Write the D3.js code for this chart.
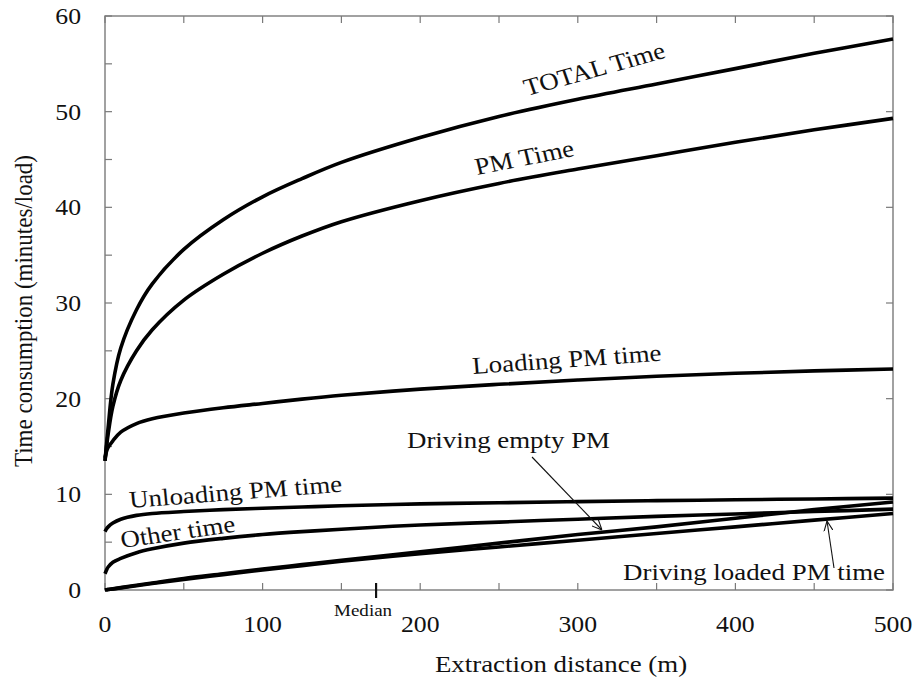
<!DOCTYPE html>
<html>
<head>
<meta charset="utf-8">
<script src="https://cdn.jsdelivr.net/npm/d3@7"></script>
<style>
  body { margin: 0; background: #fff; }
  svg { display: block; }
  text { font-family: "Liberation Serif", "Times New Roman", serif; fill: #111; }
  .frame { fill: none; stroke: #7a7a7a; stroke-width: 1.4; }
  .tick { stroke: #7a7a7a; stroke-width: 1.2; }
  .curve { fill: none; stroke: #000; stroke-width: 3.6; stroke-linejoin: round; }
  .pointer { stroke: #111; stroke-width: 1.1; fill: none; }
</style>
</head>
<body>
<svg width="917" height="683"></svg>
<script>
(function (d3) {
  'use strict';

  // extraction distance (m)
  const distance = [0, 1, 2, 5, 10, 20, 30, 50, 75, 100, 125, 150, 200, 250, 300, 350, 400, 450, 500];

  // time consumption (minutes/load)
  const totalTime     = [13.5, 15.3, 17.0, 21.5, 25.3, 29.3, 32.0, 35.6, 38.7, 41.1, 43.0, 44.7, 47.3, 49.5, 51.3, 52.9, 54.5, 56.1, 57.6];
  const pmTime        = [13.5, 15.0, 16.3, 19.2, 21.9, 25.0, 27.2, 30.3, 33.0, 35.2, 37.0, 38.5, 40.7, 42.5, 44.0, 45.4, 46.8, 48.1, 49.3];
  const loadingTime   = [13.8, 14.5, 14.9, 15.6, 16.5, 17.4, 17.9, 18.5, 19.05, 19.5, 19.95, 20.35, 21.0, 21.5, 21.95, 22.35, 22.65, 22.9, 23.1];
  const unloadingTime = [6.1, 6.4, 6.6, 7.0, 7.4, 7.8, 8.0, 8.2, 8.4, 8.55, 8.68, 8.8, 9.0, 9.12, 9.24, 9.34, 9.43, 9.52, 9.6];
  const otherTime     = [1.7, 2.1, 2.4, 2.9, 3.3, 3.9, 4.3, 4.9, 5.4, 5.8, 6.1, 6.35, 6.8, 7.1, 7.4, 7.7, 7.95, 8.2, 8.45];
  const drivingEmpty  = [0, 0.03, 0.05, 0.12, 0.25, 0.5, 0.73, 1.2, 1.7, 2.2, 2.65, 3.1, 4.0, 4.9, 5.8, 6.6, 7.5, 8.4, 9.2];
  const drivingLoaded = [0, 0.03, 0.05, 0.11, 0.22, 0.45, 0.67, 1.1, 1.6, 2.1, 2.55, 3.0, 3.8, 4.5, 5.2, 5.9, 6.6, 7.3, 8.0];

  const xTicks = [0, 100, 200, 300, 400, 500];
  const xMinor = [50, 150, 250, 350, 450];
  const yTicks = [0, 10, 20, 30, 40, 50, 60];
  const yMinor = [5, 15, 25, 35, 45, 55];
  const medianDistance = 172;

  const series = [totalTime, pmTime, loadingTime, unloadingTime, otherTime, drivingEmpty, drivingLoaded];

  const svg = d3.select('svg');
  const left = 105, right = 893, top = 16, bottom = 590;
  const stretch = 1.12; // the figure's text is a bit wider than tall

  const x = d3.scaleLinear().domain([0, 500]).range([left, right]);
  const y = d3.scaleLinear().domain([0, 60]).range([bottom, top]);

  const line = d3.line()
    .x((d, i) => x(distance[i]))
    .y(d => y(d))
    .curve(d3.curveCatmullRom.alpha(0.5));

  // ticks, pointing inward on all four sides
  const tickLen = 7;
  const g = svg.append('g');
  g.selectAll('.xb').data(xTicks.concat(xMinor)).enter().append('line')
    .attr('class', 'tick')
    .attr('x1', d => x(d)).attr('x2', d => x(d))
    .attr('y1', bottom).attr('y2', bottom - tickLen);
  g.selectAll('.xt').data(xTicks.concat(xMinor)).enter().append('line')
    .attr('class', 'tick')
    .attr('x1', d => x(d)).attr('x2', d => x(d))
    .attr('y1', top).attr('y2', top + tickLen);
  g.selectAll('.yl').data(yTicks.concat(yMinor)).enter().append('line')
    .attr('class', 'tick')
    .attr('x1', left).attr('x2', left + tickLen)
    .attr('y1', d => y(d)).attr('y2', d => y(d));
  g.selectAll('.yr').data(yTicks).enter().append('line')
    .attr('class', 'tick')
    .attr('x1', right).attr('x2', right - tickLen)
    .attr('y1', d => y(d)).attr('y2', d => y(d));

  svg.append('rect')
    .attr('class', 'frame')
    .attr('x', left).attr('y', top)
    .attr('width', right - left).attr('height', bottom - top);

  // curves
  svg.selectAll('.curve').data(series).enter().append('path')
    .attr('class', 'curve')
    .attr('d', line);

  // helper for horizontally stretched text
  function label(txt, px, py, angle, size, anchor) {
    const a = Math.atan(stretch * Math.tan(angle * Math.PI / 180)) * 180 / Math.PI;
    return svg.append('text')
      .attr('transform', `translate(${px},${py}) scale(${stretch},1) rotate(${a})`)
      .attr('text-anchor', anchor || 'start')
      .style('font-size', size + 'px')
      .text(txt);
  }

  // tick labels
  xTicks.forEach(d => label(d, x(d), 632, 0, 23, 'middle'));
  yTicks.forEach(d => label(d, 81, y(d) + 8, 0, 23, 'end'));

  // median marker
  svg.append('line')
    .attr('x1', x(medianDistance)).attr('x2', x(medianDistance))
    .attr('y1', bottom - 7).attr('y2', bottom + 8)
    .attr('stroke', '#111').attr('stroke-width', 2.2);
  label('Median', x(medianDistance) - 13, 616, 0, 17, 'middle');

  // axis titles
  label('Extraction distance (m)', 561, 672, 0, 24, 'middle');
  svg.append('text')
    .attr('transform', `translate(32,${(top + bottom) / 2 + 8}) scale(${stretch},1) rotate(-90)`)
    .attr('text-anchor', 'middle')
    .style('font-size', '23px')
    .text('Time consumption (minutes/load)');

  // curve labels
  label('TOTAL Time', 527, 96, -15.4, 24);
  label('PM Time', 477, 175, -11.1, 24);
  label('Loading PM time', 473, 374, -4, 24);
  label('Unloading PM time', 130, 508, -4.4, 24);
  label('Other time', 122, 548, -8.2, 24);
  label('Driving empty PM', 407, 448, 0, 24);
  label('Driving loaded PM time', 885, 580, 0, 24, 'end');

  // pointer arrows
  const defs = svg.append('defs');
  defs.append('marker')
    .attr('id', 'arrow')
    .attr('viewBox', '0 0 10 10')
    .attr('refX', 10).attr('refY', 5)
    .attr('markerWidth', 10).attr('markerHeight', 10)
    .attr('markerUnits', 'userSpaceOnUse')
    .attr('orient', 'auto')
    .append('path')
      .attr('d', 'M0,0.5 L10,5 L0,9.5')
      .attr('fill', 'none').attr('stroke', '#111').attr('stroke-width', 1.1);

  svg.append('line').attr('class', 'pointer')
    .attr('x1', 532).attr('y1', 457)
    .attr('x2', 602).attr('y2', 530)
    .attr('marker-end', 'url(#arrow)');
  svg.append('line').attr('class', 'pointer')
    .attr('x1', 834).attr('y1', 568)
    .attr('x2', 827).attr('y2', 521)
    .attr('marker-end', 'url(#arrow)');

}(d3));
</script>
</body>
</html>
